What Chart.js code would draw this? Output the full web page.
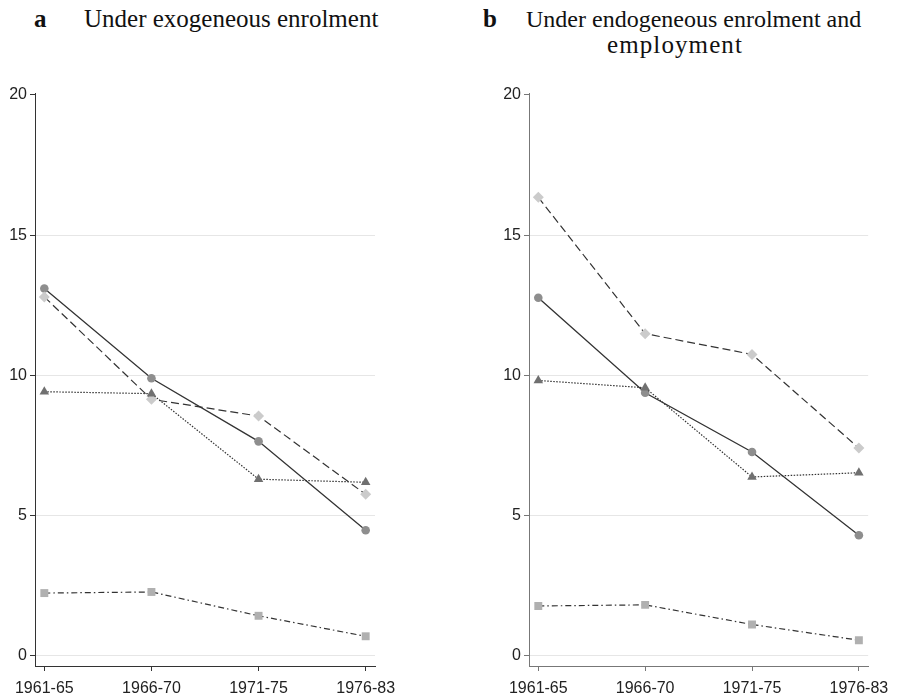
<!DOCTYPE html>
<html>
<head>
<meta charset="utf-8">
<script src="https://cdn.jsdelivr.net/npm/chart.js@4.4.0/dist/chart.umd.min.js"></script>
<style>
  html, body { margin: 0; padding: 0; background: #fff; }
  body { width: 897px; height: 699px; position: relative; overflow: hidden; }
  .t { position: absolute; font-family: "Liberation Serif", "Times New Roman", serif; font-size: 25px; line-height: 26px; color: #111; white-space: nowrap; }
  .b { font-weight: bold; }
  .cv { position: absolute; top: 0; }
</style>
</head>
<body>
<div class="t b" style="left:34px; top:6px;">a</div>
<div class="t" style="left:84px; top:6px;">Under exogeneous enrolment</div>
<div class="t b" style="left:483px; top:6px;">b</div>
<div class="t" style="left:526px; top:6px; font-size:24px;">Under endogeneous enrolment and</div>
<div class="t" style="left:607px; top:32px; letter-spacing:1.1px;">employment</div>
<div class="cv" style="left:0; width:448px; height:699px;"><canvas id="c1" width="448" height="699"></canvas></div>
<div class="cv" style="left:448px; width:449px; height:699px;"><canvas id="c2" width="449" height="699"></canvas></div>
<script>
const categories = ["1961-65", "1966-70", "1971-75", "1976-83"];
const yTicks = [0, 5, 10, 15, 20];

// Panel a: exogeneous enrolment
const aCircle   = [13.1, 9.9, 7.65, 4.48];
const aDiamond  = [12.8, 9.15, 8.55, 5.76];
const aTriangle = [9.42, 9.35, 6.3, 6.19];
const aSquare   = [2.24, 2.28, 1.43, 0.70];

// Panel b: endogeneous enrolment and employment
const bCircle   = [12.77, 9.38, 7.27, 4.30];
const bDiamond  = [16.35, 11.49, 10.75, 7.41];
const bTriangle = [9.82, 9.56, 6.38, 6.53];
const bSquare   = [1.78, 1.82, 1.12, 0.56];

function pts(arr) { return arr.map((v, i) => ({ x: i, y: v })); }

function makeDatasets(circle, diamond, triangle, square) {
  const line = '#333333';
  return [
    { data: pts(square), borderColor: line, borderWidth: 1.2, borderDash: [6, 3, 1.5, 3],
      pointStyle: 'rect', pointRadius: 5.6, pointBackgroundColor: '#b0b0b0', pointBorderColor: '#b0b0b0', pointBorderWidth: 0 },
    { data: pts(triangle), borderColor: line, borderWidth: 1.2, borderDash: [1.5, 1.5],
      pointStyle: 'triangle', pointRadius: 5.5, pointBackgroundColor: '#707070', pointBorderColor: '#707070', pointBorderWidth: 0 },
    { data: pts(diamond), borderColor: line, borderWidth: 1.2, borderDash: [8, 4],
      pointStyle: 'rectRot', pointRadius: 5.5, pointBackgroundColor: '#cbcbcb', pointBorderColor: '#cbcbcb', pointBorderWidth: 0 },
    { data: pts(circle), borderColor: line, borderWidth: 1.3, borderDash: [],
      pointStyle: 'circle', pointRadius: 4.3, pointBackgroundColor: '#8e8e8e', pointBorderColor: '#8e8e8e', pointBorderWidth: 0 }
  ];
}

function makeChart(id, datasets, yWidth, padRight, axisColor) {
  return new Chart(document.getElementById(id), {
    type: 'line',
    data: { datasets },
    options: {
      responsive: false,
      animation: false,
      events: [],
      layout: { padding: { top: 93, right: padRight, bottom: 0, left: 0 } },
      plugins: { legend: { display: false }, tooltip: { enabled: false }, title: { display: false } },
      elements: { line: { tension: 0, fill: false } },
      scales: {
        x: {
          type: 'linear', min: -0.087, max: 3.087,
          afterBuildTicks: s => { s.ticks = categories.map((c, i) => ({ value: i })); },
          afterFit: s => { s.height = 33; },
          ticks: { callback: v => categories[v], font: { family: 'Liberation Sans, Arial, sans-serif', size: 16 }, color: '#222', padding: 8, maxRotation: 0, autoSkip: false },
          grid: { drawOnChartArea: false, drawTicks: true, tickLength: 5, tickColor: axisColor },
          border: { display: true, color: axisColor, width: 1 }
        },
        y: {
          type: 'linear', min: -0.36, max: 20.07,
          afterBuildTicks: s => { s.ticks = yTicks.map(v => ({ value: v })); },
          afterFit: s => { s.width = yWidth; },
          ticks: { font: { family: 'Liberation Sans, Arial, sans-serif', size: 16 }, color: '#222', padding: 3 },
          grid: { color: c => (c.tick && c.tick.value === 20) ? 'rgba(0,0,0,0)' : '#e6e6e6', lineWidth: 1, tickLength: 5, tickColor: axisColor },
          border: { display: true, color: axisColor, width: 1 }
        }
      }
    }
  });
}

makeChart('c1', makeDatasets(aCircle, aDiamond, aTriangle, aSquare), 35, 73, '#333333');
makeChart('c2', makeDatasets(bCircle, bDiamond, bTriangle, bSquare), 81, 28, '#777777');
</script>
</body>
</html>
